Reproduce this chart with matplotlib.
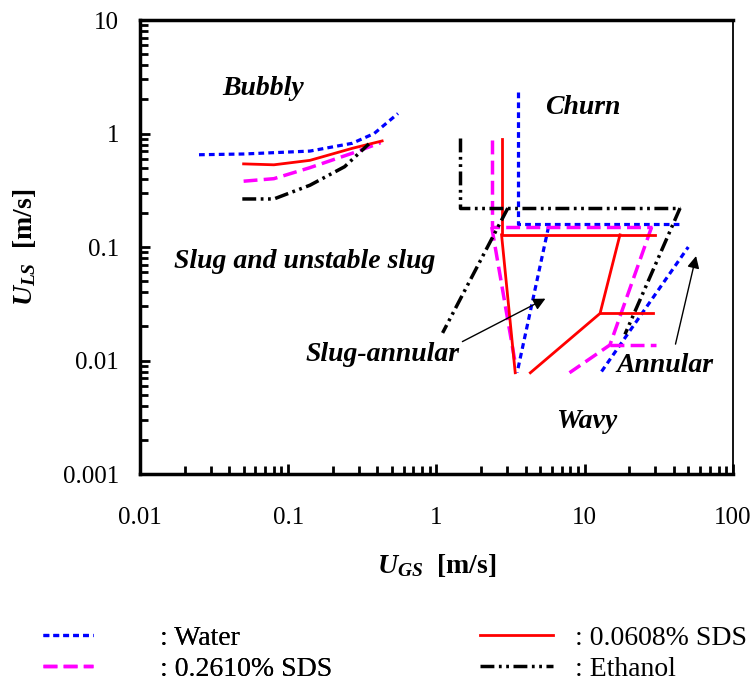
import matplotlib
matplotlib.use("Agg")
import matplotlib.pyplot as plt
from matplotlib.ticker import LogLocator, FuncFormatter, NullFormatter

plt.rcParams["font.family"] = "Liberation Serif"
plt.rcParams["mathtext.fontset"] = "custom"
plt.rcParams["mathtext.rm"] = "Liberation Serif:bold"
plt.rcParams["mathtext.it"] = "Liberation Serif:italic:bold"
plt.rcParams["mathtext.bf"] = "Liberation Serif:bold"

# flow pattern transition boundaries, U_GS [m/s] vs U_LS [m/s]
# each entry is one boundary piece: (x values, y values)
water_lines = [
    ([0.025, 0.05, 0.14, 0.27, 0.38, 0.55], [0.65, 0.66, 0.70, 0.82, 1.0, 1.5]),
    ([3.55, 3.55, 46], [2.3, 0.16, 0.16]),
    ([5.7, 3.5], [0.15, 0.0078]),
    ([13.0, 50], [0.008, 0.1]),
]
sds0608_lines = [
    ([0.05, 0.08, 0.14, 0.27, 0.43], [0.54, 0.53, 0.58, 0.74, 0.86]),
    ([2.75, 2.75, 29.8], [0.89, 0.128, 0.128]),
    ([2.75, 3.4], [0.128, 0.0078]),
    ([17.3, 12.7, 4.3], [0.128, 0.026, 0.0078]),
    ([12.7, 29.0], [0.026, 0.026]),
]
sds2610_lines = [
    ([0.05, 0.08, 0.14, 0.27, 0.42], [0.38, 0.40, 0.50, 0.67, 0.83]),
    ([2.36, 2.36, 28.3], [0.88, 0.15, 0.15]),
    ([2.36, 3.4], [0.15, 0.0095]),
    ([28.3, 14.8, 7.9], [0.15, 0.0137, 0.0078]),
    ([14.8, 30.5], [0.0137, 0.0137]),
]
ethanol_lines = [
    ([0.049, 0.08, 0.14, 0.24, 0.35], [0.265, 0.265, 0.35, 0.51, 0.81]),
    ([1.44, 1.44, 44], [0.91, 0.22, 0.22]),
    ([3.03, 1.1], [0.22, 0.0175]),
    ([44, 18.7], [0.22, 0.017]),
]

fig = plt.figure(figsize=(7.54, 6.83), dpi=100)
ax = fig.add_axes([0.1857, 0.306, 0.7863, 0.6647])

styles = [
    (water_lines, ": Water", dict(color="#0000ff", lw=2.3, dashes=(1.8, 1.3))),
    (sds2610_lines, ": 0.2610% SDS", dict(color="#ff00ff", lw=2.5, dashes=(4.0, 1.8))),
    (sds0608_lines, ": 0.0608% SDS", dict(color="#ff0000", lw=2.0)),
    (ethanol_lines, ": Ethanol", dict(color="black", lw=2.5, dashes=(4, 1.3, 0.8, 1.3, 0.8, 1.3))),
]
handles = []
for lines, name, st in styles:
    for i, (xs, ys) in enumerate(lines):
        h, = ax.plot(xs, ys, label=name if i == 0 else None, **st)
        if i == 0:
            handles.append(h)

ax.set_xscale("log")
ax.set_yscale("log")
ax.set_xlim(0.01, 100)
ax.set_ylim(0.001, 10)

fmt = FuncFormatter(lambda v, p: "%g" % v)
ax.xaxis.set_major_formatter(fmt)
ax.yaxis.set_major_formatter(fmt)
ax.xaxis.set_minor_locator(LogLocator(base=10, subs=range(2, 10)))
ax.yaxis.set_minor_locator(LogLocator(base=10, subs=range(2, 10)))
ax.xaxis.set_minor_formatter(NullFormatter())
ax.yaxis.set_minor_formatter(NullFormatter())
ax.tick_params(axis="both", which="both", direction="in", top=False, right=False, width=2)
ax.tick_params(axis="both", which="major", length=7, labelsize=18)
ax.tick_params(axis="both", which="minor", length=6)
ax.tick_params(axis="x", which="major", pad=24)
ax.tick_params(axis="y", which="major", pad=15)

ax.spines["left"].set_linewidth(2.5)
ax.spines["bottom"].set_linewidth(2.5)
ax.spines["top"].set_linewidth(2.5)
ax.spines["right"].set_linewidth(1.3)

ax.set_xlabel(r"$U_{GS}$  [m/s]", fontsize=20, fontweight="bold", labelpad=16)
ax.set_ylabel(r"$U_{LS}$  [m/s]", fontsize=20, fontweight="bold", labelpad=18)

region = dict(fontsize=20, fontweight="bold", style="italic", ha="center", va="center")
ax.text(0.068, 2.5, "Bubbly", **region)
ax.text(9.7, 1.68, "Churn", **region)
ax.text(0.13, 0.074, "Slug and unstable slug", **region)
ax.text(0.43, 0.0114, "Slug-annular", **region)
ax.text(34.7, 0.009, "Annular", **region)
ax.text(10.4, 0.0029, "Wavy", **region)

arrow = dict(arrowstyle="-|>", color="black", lw=1.0, mutation_scale=18)
ax.annotate("", xy=(5.65, 0.036), xytext=(1.44, 0.0143), arrowprops=arrow)
ax.annotate("", xy=(57, 0.088), xytext=(40.6, 0.0132), arrowprops=arrow)

# two legend columns below the axes, each with its own spacing
leg_left = fig.legend(handles=handles[:2], frameon=False, fontsize=20,
                      loc="lower left", bbox_to_anchor=(0.057, 0.002),
                      borderaxespad=0, borderpad=0,
                      handlelength=1.8, labelspacing=0.2, handletextpad=2.4)
fig.add_artist(leg_left)
fig.legend(handles=handles[2:], frameon=False, fontsize=20,
           loc="lower left", bbox_to_anchor=(0.637, 0.002),
           borderaxespad=0, borderpad=0,
           handlelength=2.6, labelspacing=0.2, handletextpad=0.8)

fig.savefig("out.png", dpi=100)
